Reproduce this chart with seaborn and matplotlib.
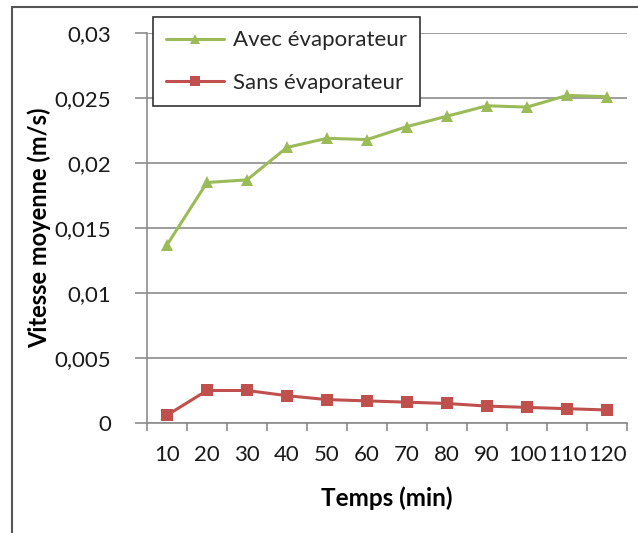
import matplotlib
matplotlib.use("Agg")
import matplotlib.pyplot as plt
from matplotlib.patches import Rectangle
from matplotlib.ticker import FixedLocator, FuncFormatter
import seaborn as sns
import pandas as pd

# Measured mean velocity over time, with and without the evaporator
temps = ["10", "20", "30", "40", "50", "60", "70", "80", "90", "100", "110", "120"]
avec = [0.0137, 0.0185, 0.0187, 0.0212, 0.0219, 0.0218, 0.0228, 0.0236, 0.0244, 0.0243, 0.0252, 0.0251]
sans = [0.0006, 0.0025, 0.0025, 0.0021, 0.0018, 0.0017, 0.0016, 0.0015, 0.0013, 0.0012, 0.0011, 0.0010]
series_names = ["Avec évaporateur", "Sans évaporateur"]
y_ticks = [0, 0.005, 0.01, 0.015, 0.02, 0.025, 0.03]

df = pd.DataFrame({
    "Temps": temps * 2,
    "Vitesse": avec + sans,
    "Série": [series_names[0]] * len(temps) + [series_names[1]] * len(temps),
})

sns.set_theme(style="white")
plt.rcParams["font.family"] = ["Lato", "DejaVu Sans"]

fig = plt.figure(figsize=(6.38, 5.33), dpi=100)
ax = fig.add_axes([0.2304, 0.2064, 0.7524, 0.7317])

palette = {series_names[0]: "#9BBB59", series_names[1]: "#C0504D"}
markers = {series_names[0]: "^", series_names[1]: "s"}
sns.lineplot(data=df, x="Temps", y="Vitesse", hue="Série", style="Série",
             palette=palette, markers=markers, dashes=False, markersize=8,
             markeredgewidth=0, linewidth=2.2, sort=False, ax=ax)

# Axes limits, gridlines and ticks
ax.set_xlim(-0.5, len(temps) - 0.5)
ax.set_ylim(0, 0.03)
ax.set_yticks(y_ticks)
ax.yaxis.set_major_formatter(FuncFormatter(lambda v, p: ("%g" % v).replace(".", ",")))
ax.yaxis.grid(True, color="#8c8c8c", linewidth=1.2)
ax.xaxis.grid(False)
ax.set_xticks(range(len(temps)))
ax.set_xticklabels(temps)
ax.xaxis.set_minor_locator(FixedLocator([i - 0.5 for i in range(len(temps) + 1)]))
ax.tick_params(axis="x", which="major", length=0, pad=16, labelsize=16, colors="#1a1a1a")
ax.tick_params(axis="x", which="minor", length=6, width=1.2, color="#8c8c8c", bottom=True)
ax.tick_params(axis="y", length=9, width=1.2, color="#8c8c8c", left=True, pad=17,
               labelsize=16, labelcolor="#1a1a1a")
for side in ("top", "right"):
    ax.spines[side].set_visible(False)
for side in ("left", "bottom"):
    ax.spines[side].set_color("#8c8c8c")
    ax.spines[side].set_linewidth(1.2)

ax.set_xlabel("Temps (min)", fontsize=17.5, fontweight="bold", labelpad=15, color="black")
ax.set_ylabel("Vitesse moyenne (m/s)", fontsize=17, fontweight="bold", labelpad=2, color="black")

leg = ax.legend(loc="upper left", bbox_to_anchor=(0.0125, 1.041), borderaxespad=0,
                fontsize=16, frameon=True, fancybox=False, edgecolor="#333333",
                framealpha=1, handlelength=2.6, borderpad=0.6, labelspacing=1.0,
                handletextpad=0.4, markerscale=0.9)
leg.get_frame().set_linewidth(1.2)
leg.set_title(None)

# Chart area border
fig.patches.append(Rectangle((12 / 638, -0.1), 1.2, 1 - 7 / 533 + 0.1,
                             transform=fig.transFigure, fill=False,
                             edgecolor="#555555", linewidth=1.5))

fig.savefig("out.png", dpi=100)
